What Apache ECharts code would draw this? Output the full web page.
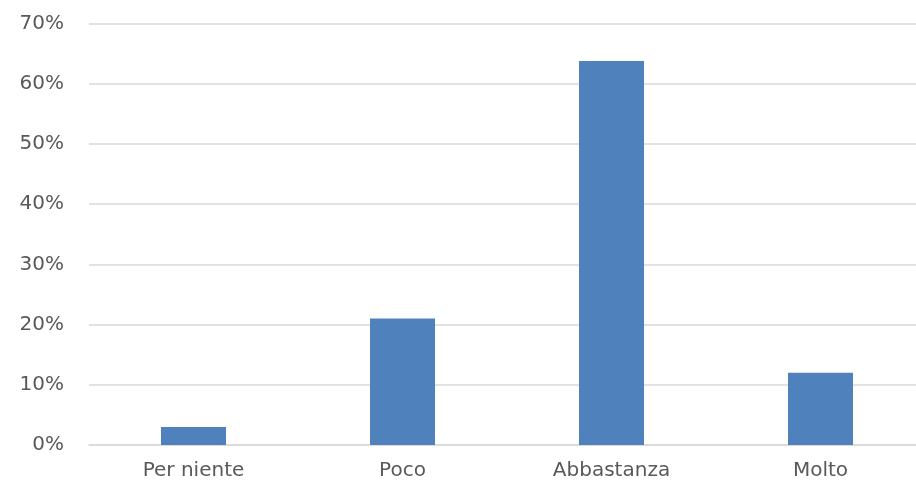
<!DOCTYPE html>
<html>
<head>
<meta charset="utf-8">
<script src="https://cdn.jsdelivr.net/npm/echarts@6/dist/echarts.min.js"></script>
<style>
html,body{margin:0;padding:0;background:#fff;overflow:hidden;width:916px;height:481px;}
#chart{width:925px;height:481px;}
</style>
</head>
<body>
<div id="chart"></div>
<script>
const categories = ['Per niente', 'Poco', 'Abbastanza', 'Molto'];
const values = [3, 21, 63.8, 12];
const yTicks = [0, 10, 20, 30, 40, 50, 60, 70];

const chart = echarts.init(document.getElementById('chart'), null, {renderer: 'canvas'});
chart.setOption({
  animation: false,
  backgroundColor: '#ffffff',
  grid: {left: 89, right: 0, top: 23.6, bottom: 36, containLabel: false},
  xAxis: {
    type: 'category',
    data: categories,
    axisTick: {show: false},
    axisLine: {show: true, lineStyle: {color: '#d9d9d9', width: 1.5}},
    axisLabel: {color: '#595959', fontFamily: 'DejaVu Sans', fontSize: 20, margin: 16}
  },
  yAxis: {
    type: 'value',
    min: yTicks[0],
    max: yTicks[yTicks.length - 1],
    interval: 10,
    axisLine: {show: false},
    axisTick: {show: false},
    splitLine: {lineStyle: {color: '#d9d9d9', width: 1.5}},
    axisLabel: {color: '#595959', fontFamily: 'DejaVu Sans', fontSize: 20, margin: 25,
      formatter: v => v + '%'}
  },
  series: [{
    type: 'bar',
    data: values,
    barWidth: 65,
    itemStyle: {color: '#4f81bd'}
  }]
});
</script>
</body>
</html>
